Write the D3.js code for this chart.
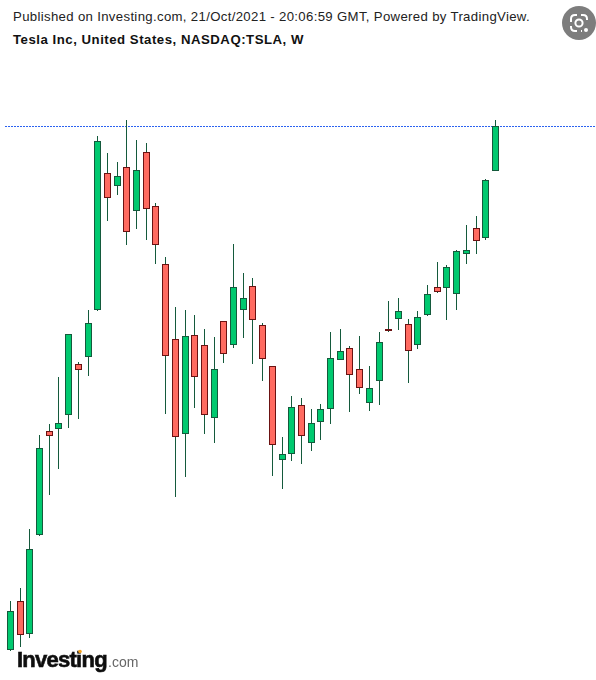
<!DOCTYPE html>
<html>
<head>
<meta charset="utf-8">
<script src="https://cdn.jsdelivr.net/npm/d3@7"></script>
<style>
html,body{margin:0;padding:0;background:#fff;overflow:hidden}
svg{display:block}
</style>
</head>
<body>
<div id="chart"></div>
<script>
const publishedText = "Published on Investing.com, 21/Oct/2021 - 20:06:59 GMT, Powered by TradingView.";
const titleText = "Tesla Inc, United States, NASDAQ:TSLA, W";
const lastPrice = 893.7;
const opens = [370.7,418.7,386.7,485.7,588.7,591.7,605.7,655.7,663.7,710.7,846.7,834.7,852.7,809.7,867.7,813.7,755.7,680.7,586.7,684.7,674.7,602.7,698.7,675.7,710.7,733.7,694.7,653.7,560.7,566.7,614.7,577.7,598.7,611.7,660.3,671.7,650.7,617.7,639.7,690.7,701.7,695.7,675.7,705.3,732.7,732.3,726.3,766.3,791.7,782.3,849.3];
const highs = [419,431.7,490.7,585,595,642.7,686,658,710,884,866.7,858,900,880,876.7,816.7,762.7,713,710,705,691,682.7,699,775,747,742,696.7,654,583,624,621.7,611,616,687.7,690.7,674,684,654,688,718.7,721.7,700.7,708.7,734.7,757.7,754.7,769,794,803,841,900];
const lows = [369.3,373.3,382.3,484.3,525,551.3,592.3,601.3,644,709.3,799.3,825,775.3,791.3,780.3,756.3,606.3,523.3,543.3,612.3,586.3,577.3,657.3,672.3,682.3,656.3,639.3,544.3,531.3,559.3,556.3,569.3,580.3,596.3,660.3,608.3,626.3,609.3,615.3,688.3,690.3,637.3,671.3,704.3,727.3,700,710,757,767,780,849];
const closes = [408.7,385.7,470.3,571.7,584.3,596.7,685.7,650.7,696.7,878.7,822.7,843.7,788.7,849.7,811.7,775.7,664.7,583.7,683.7,643.7,605.7,650.7,666.7,732.7,721.7,700.7,661.7,575.7,565.7,612.7,584.7,596.7,610.7,661.7,668.7,645.7,632.7,631.7,677.7,689.7,708.7,669.7,702.7,725.7,728.3,752.7,768.7,769.7,779.3,839.7,893.7];

const W = 596, H = 680;
const svg = d3.select("#chart").append("svg").attr("width", W).attr("height", H);
svg.append("rect").attr("width", W).attr("height", H).attr("fill", "#fff");

const x = d3.scaleLinear().domain([0, opens.length - 1]).range([10.45, 495.45]);
const y = d3.scaleLinear().domain([370, 900]).range([650, 120]);
const snap = v => Math.floor(v + 1e-6) + 0.5;

const font = "'Liberation Sans', Arial, sans-serif";
svg.append("text").attr("x", 13).attr("y", 21).attr("font-family", font).attr("font-size", 13.2)
  .attr("fill", "#222").attr("letter-spacing", 0.33).text(publishedText);
svg.append("text").attr("x", 13).attr("y", 44).attr("font-family", font).attr("font-size", 13.2)
  .attr("font-weight", 700).attr("fill", "#111").attr("letter-spacing", 0.52).text(titleText);

// last price line
svg.append("line").attr("x1", 5).attr("x2", W).attr("y1", snap(y(lastPrice))).attr("y2", snap(y(lastPrice)))
  .attr("stroke", "#2b62f0").attr("stroke-width", 1).attr("stroke-dasharray", "2,1");

const candles = d3.range(opens.length).map(i => ({i, o: opens[i], h: highs[i], l: lows[i], c: closes[i]}));
const g = svg.append("g");
g.selectAll("line.w").data(candles).join("line").attr("class", "w")
  .attr("x1", d => snap(x(d.i))).attr("x2", d => snap(x(d.i)))
  .attr("y1", d => Math.floor(y(d.h))).attr("y2", d => Math.ceil(y(d.l)))
  .attr("stroke", "#145a3c").attr("stroke-width", 1);
g.selectAll("rect.b").data(candles).join("rect").attr("class", "b")
  .attr("x", d => snap(x(d.i)) - 3).attr("width", 6)
  .attr("y", d => snap(y(Math.max(d.o, d.c))))
  .attr("height", d => snap(y(Math.min(d.o, d.c))) - snap(y(Math.max(d.o, d.c))))
  .attr("fill", d => d.c >= d.o ? "#00c96f" : "#ff6a60")
  .attr("stroke", d => d.c >= d.o ? "#145a3c" : "#6b1212")
  .attr("stroke-width", 1);

// Lens badge
const lens = svg.append("g").attr("transform", "translate(579,23)");
lens.append("circle").attr("r", 17).attr("fill", "#7d7d7d");
lens.append("circle").attr("r", 3.6).attr("fill", "none").attr("stroke", "#fff").attr("stroke-width", 2);
lens.append("path").attr("d", "M-8,-1 V-4 Q-8,-8 -4,-8 H-2 M2,-8 H4 Q8,-8 8,-4 V-3 M-8,3 V4 Q-8,8 -4,8 H-2 M2,8 H3")
  .attr("fill", "none").attr("stroke", "#fff").attr("stroke-width", 2);
lens.append("circle").attr("cx", 7).attr("cy", 7).attr("r", 2).attr("fill", "#fff");

// Logo
const defs = svg.append("defs");
defs.append("filter").attr("id", "soft").append("feGaussianBlur").attr("stdDeviation", 0.45);
const logo = svg.append("g").attr("filter", "url(#soft)");
logo.append("text").attr("x", 17).attr("y", 667).attr("font-family", font).attr("font-size", 22)
  .attr("font-weight", 700).attr("letter-spacing", -0.75).attr("fill", "#111")
  .attr("stroke", "#111").attr("stroke-width", 0.6).text("Investing");
logo.append("text").attr("x", 108).attr("y", 667).attr("font-family", font).attr("font-size", 14)
  .attr("fill", "#666").text(".com");
logo.append("circle").attr("cx", 80).attr("cy", 651.5).attr("r", 1.8).attr("fill", "#f6a21e");
</script>
</body>
</html>
